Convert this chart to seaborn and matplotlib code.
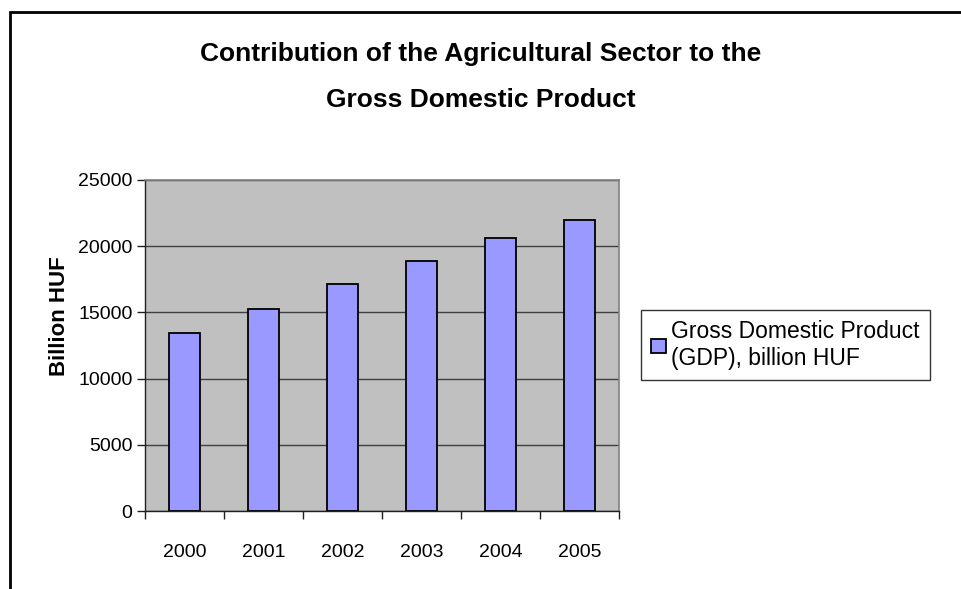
import numpy as np
import pandas as pd
import matplotlib
matplotlib.use("Agg")
import matplotlib.pyplot as plt
import seaborn as sns
from matplotlib.patches import Rectangle

# data
years = ['2000', '2001', '2002', '2003', '2004', '2005']
gdp = [13450, 15270, 17150, 18860, 20620, 21980]
series_label = 'Gross Domestic Product\n(GDP), billion HUF'

df = pd.DataFrame({'Year': years, 'GDP': gdp})

sns.set_style('white')
plt.rcParams['font.family'] = ['Liberation Sans', 'DejaVu Sans']
plt.rcParams['text.color'] = 'black'
plt.rcParams['axes.labelcolor'] = 'black'
plt.rcParams['xtick.color'] = 'black'
plt.rcParams['ytick.color'] = 'black'

fig = plt.figure(figsize=(9.62, 5.89), dpi=100)
ax = fig.add_axes([145 / 962, 1 - 511 / 589, 474 / 962, 331 / 589])

sns.barplot(data=df, x='Year', y='GDP', color='#9999FF', saturation=1,
            width=0.4, edgecolor='black', linewidth=1.3,
            label=series_label, ax=ax, zorder=3)

handles, labels = ax.get_legend_handles_labels()
if ax.get_legend() is not None:
    ax.get_legend().remove()

ax.set_facecolor('#C0C0C0')
ax.set_ylim(0, 25000)
ax.set_xlim(-0.5, len(years) - 0.5)
ax.set_yticks(np.arange(0, 25001, 5000))
ax.yaxis.grid(True, color='#404040', linewidth=1.0, zorder=1)
ax.set_axisbelow(True)

for side in ['top', 'right']:
    ax.spines[side].set_color('#808080')
    ax.spines[side].set_linewidth(1.2)
for side in ['left', 'bottom']:
    ax.spines[side].set_color('#202020')
    ax.spines[side].set_linewidth(1.0)

# Excel style: ticks between categories, labels centred
ax.set_xticks(np.arange(len(years) + 1) - 0.5, minor=True)
ax.tick_params(axis='x', which='major', length=0, pad=24, labelsize=14)
ax.tick_params(axis='x', which='minor', length=6, width=1, color='#202020',
               direction='out', bottom=True)
ax.tick_params(axis='y', length=6, width=1, color='#202020', direction='out',
               left=True, labelsize=14, pad=3)

ax.set_xlabel('')
ax.set_ylabel('Billion HUF', fontsize=16, fontweight='bold')
ax.yaxis.set_label_coords((70 - 145) / 474, (511 - 316) / 331)

fig.text(481 / 962, 1 - 54 / 589, 'Contribution of the Agricultural Sector to the',
         ha='center', va='center', fontsize=19, fontweight='bold')
fig.text(481 / 962, 1 - 100 / 589, 'Gross Domestic Product',
         ha='center', va='center', fontsize=19, fontweight='bold')

leg = fig.legend(handles, labels, loc='upper left',
                 bbox_to_anchor=(641 / 962, 1 - 310 / 589),
                 fontsize=16.5, frameon=True, fancybox=False,
                 edgecolor='black', handlelength=0.62, handleheight=0.62,
                 handletextpad=0.25, borderpad=0.45, borderaxespad=0,
                 labelspacing=0.3)
leg.get_frame().set_linewidth(1.0)

# chart area border
fig.patches.append(Rectangle((10 / 962, -0.05), 1.0, 1 - 12 / 589 + 0.05,
                             transform=fig.transFigure, fill=False,
                             edgecolor='black', linewidth=2))

fig.savefig('out.png', dpi=100, facecolor='white')
